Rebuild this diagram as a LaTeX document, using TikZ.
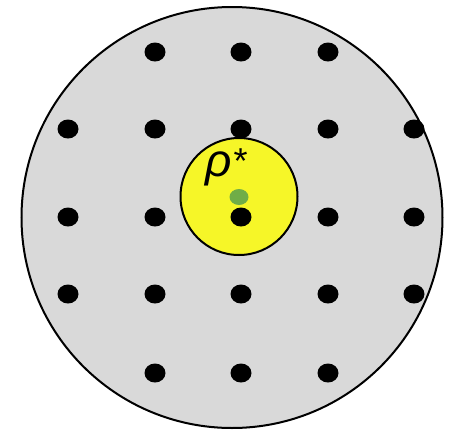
\documentclass[tikz,border=0pt]{standalone}
\usepackage{fontspec}
\setmainfont{Liberation Sans}
\usetikzlibrary{positioning,shapes.geometric}

\definecolor{diskgray}{RGB}{217,217,217}
\definecolor{ballyellow}{RGB}{246,246,40}
\definecolor{centergreen}{RGB}{112,173,71}

\begin{document}
\begin{tikzpicture}[
    x=1pt, y=-1pt,
    region/.style={draw, circle, line width=2pt, fill=diskgray, inner sep=0pt},
    ball/.style={draw, circle, line width=2pt, fill=ballyellow, inner sep=0pt},
    site/.style={ellipse, fill=black, minimum width=21pt, minimum height=19pt, inner sep=0pt},
    centre/.style={ellipse, fill=centergreen, minimum width=19pt, minimum height=16pt, inner sep=0pt}
]
    \useasboundingbox (0,0) rectangle (459,432);

    % search region and ball
    \node[region, minimum size=421pt] (disk) at (232,217.5) {};
    \node[ball, minimum size=117pt] (optball) at (239,196.5) {};

    % lattice points
    \foreach \x in {155,241,328} {
        \node[site] (s-\x-52) at (\x,52) {};
        \node[site] (s-\x-373) at (\x,373) {};
    }
    \foreach \y in {129,217,294}
        \foreach \x in {68,155,241,328,414}
            \node[site] (s-\x-\y) at (\x,\y) {};

    % optimum
    \node[centre] (opt) at (239,197) {};
    \node[anchor=base west, inner sep=0pt, font=\fontsize{46}{50}\selectfont] (rholabel) at (205,176)
        {\itshape ρ\upshape\hspace{2pt}\raisebox{3pt}{\fontsize{36}{40}\selectfont*}};

\end{tikzpicture}
\end{document}
